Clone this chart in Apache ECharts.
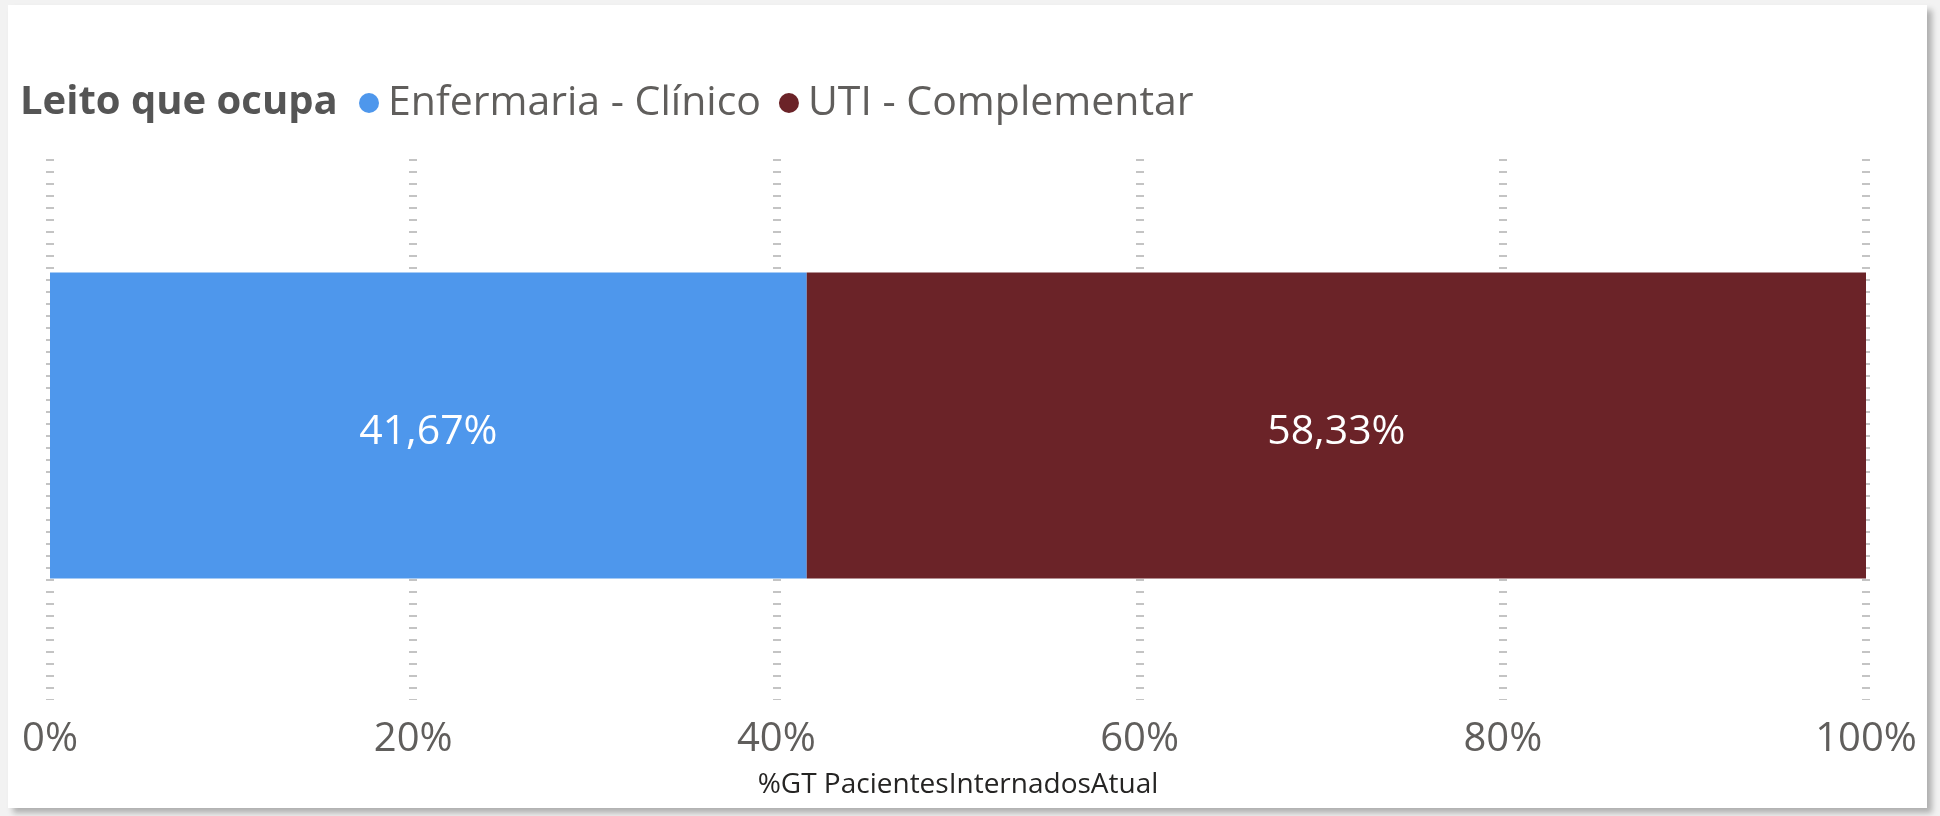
<!DOCTYPE html>
<html>
<head>
<meta charset="utf-8">
<script src="https://cdn.jsdelivr.net/npm/echarts@6/dist/echarts.min.js"></script>
<style>
  html,body{margin:0;padding:0;background:#f2f2f2;width:1940px;height:816px;overflow:hidden;}
  #card{position:absolute;left:8px;top:5px;width:1919px;height:803px;background:#fff;
        box-shadow:5px 5px 6px rgba(0,0,0,0.28);}
</style>
</head>
<body>
<div id="card"></div>
<script>
// dados
var legendTitle = 'Leito que ocupa';
var categories = ['Enfermaria - Clínico', 'UTI - Complementar'];
var values = [41.67, 58.33];
var colors = ['#4E97EC', '#6B2328'];
var tickValues = [0, 20, 40, 60, 80, 100];
var axisTitle = '%GT PacientesInternadosAtual';

var font = '"Segoe UI","Open Sans",sans-serif';
var chart = echarts.init(document.getElementById('card'));

// barras num grid proprio, um pouco acima do grid das linhas de grade
var series = categories.map(function (name, i) {
    return {
        name: name,
        type: 'bar',
        stack: 'total',
        xAxisIndex: 1,
        yAxisIndex: 1,
        barWidth: 306,
        itemStyle: {color: colors[i]},
        label: {
            show: true,
            position: 'inside',
            offset: [0, 7],
            color: '#fff',
            fontFamily: font,
            fontSize: 41,
            formatter: function (p) { return p.value.toFixed(2).replace('.', ',') + '%'; }
        },
        data: [values[i]]
    };
});

chart.setOption({
    animation: false,
    title: {
        text: legendTitle,
        left: 12, top: 74, padding: 0,
        textStyle: {fontFamily: font, fontSize: 40, fontWeight: 'bold', color: '#555', lineHeight: 48}
    },
    legend: {
        data: categories,
        left: 351, top: 74, padding: 0,
        icon: 'circle',
        itemWidth: 20, itemHeight: 20,
        itemGap: 18,
        textStyle: {fontFamily: font, fontSize: 41, color: '#605E5C', lineHeight: 48, padding: [0, 0, 0, 4]}
    },
    grid: [
        {left: 42, right: 61, top: 154, bottom: 108},
        {left: 42, right: 61, top: 150, bottom: 112}
    ],
    xAxis: [{
        type: 'value',
        gridIndex: 0,
        min: tickValues[0], max: tickValues[tickValues.length - 1], interval: 20,
        axisLine: {show: false},
        axisTick: {show: false},
        axisLabel: {
            margin: 20,
            fontFamily: font, fontSize: 40, color: '#605E5C',
            formatter: '{value}%'
        },
        splitLine: {
            show: true,
            lineStyle: {color: '#c4c4c4', width: 8, type: [2, 10]}
        },
        name: axisTitle,
        nameLocation: 'middle',
        nameGap: 71,
        nameTextStyle: {fontFamily: font, fontSize: 28, color: '#252423'}
    }, {
        type: 'value',
        gridIndex: 1,
        min: tickValues[0], max: tickValues[tickValues.length - 1],
        show: false
    }],
    yAxis: [
        {type: 'category', gridIndex: 0, data: ['Total'], show: false},
        {type: 'category', gridIndex: 1, data: ['Total'], show: false}
    ],
    series: series
});
</script>
</body>
</html>
